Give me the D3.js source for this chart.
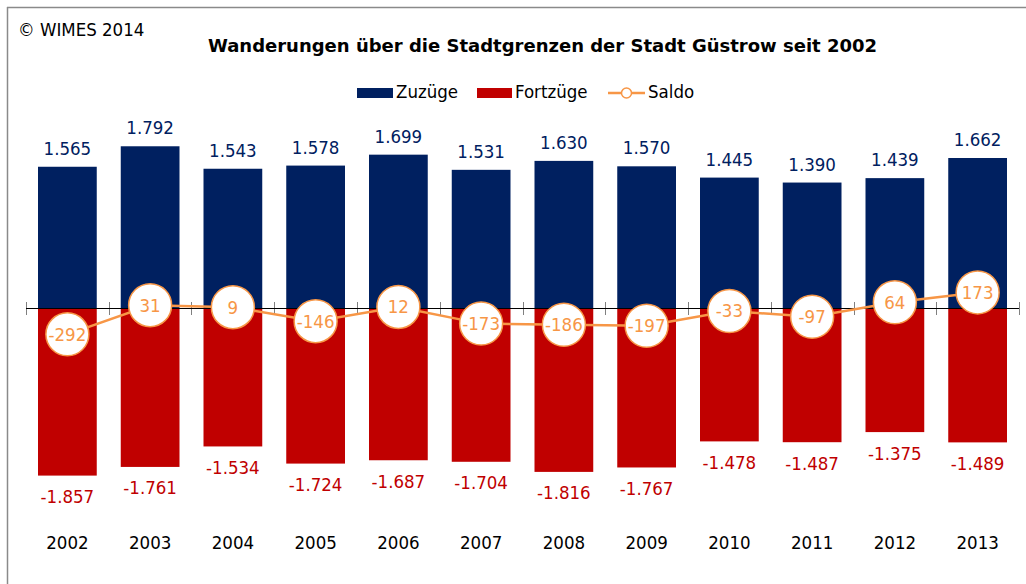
<!DOCTYPE html>
<html><head><meta charset="utf-8">
<script src="https://cdn.jsdelivr.net/npm/d3@7"></script>
<style>
html,body{margin:0;padding:0;background:#fff;}
svg{display:block;}
text{font-family:"DejaVu Sans Condensed","DejaVu Sans",sans-serif;font-stretch:condensed;}
</style></head>
<body>
<svg id="chart" width="1026" height="584"></svg>
<script>
const years = ["2002","2003","2004","2005","2006","2007","2008","2009","2010","2011","2012","2013"];
const zuzuege = [1565,1792,1543,1578,1699,1531,1630,1570,1445,1390,1439,1662];
const fortzuege = [-1857,-1761,-1534,-1724,-1687,-1704,-1816,-1767,-1478,-1487,-1375,-1489];
const saldo = [-292,31,9,-146,12,-173,-186,-197,-33,-97,64,173];
const seriesNames = ["Zuzüge","Fortzüge","Saldo"];
const titleText = "Wanderungen über die Stadtgrenzen der Stadt Güstrow seit 2002";
const copyrightText = "© WIMES 2014";

const C_IN = "#002060", C_OUT = "#c00000", C_SALDO = "#f79646";
const de = d3.formatLocale({decimal:",",thousands:".",grouping:[3],currency:["","€"],minus:"-"});
const fmt = de.format(",d");

const svg = d3.select("#chart");
const x = d3.scaleBand().domain(years).range([26,1019]).paddingInner(0.29).paddingOuter(0.145);
const y = d3.scaleLinear().domain([-2000,2000]).range([488.5,127.5]);
const y0 = y(0);

// frame
svg.append("line").attr("x1",7).attr("x2",1026).attr("y1",7.5).attr("y2",7.5).attr("stroke","#8a8a8a").attr("stroke-width",1.5);
svg.append("line").attr("x1",7.5).attr("x2",7.5).attr("y1",7).attr("y2",584).attr("stroke","#8a8a8a").attr("stroke-width",1.5);

svg.append("text").attr("x",18).attr("y",36).attr("font-size",18.5).attr("fill","#000").text(copyrightText);
svg.append("text").attr("x",542.5).attr("y",52).attr("text-anchor","middle").attr("font-size",18).attr("font-weight","bold").attr("fill","#000")
  .style("font-family",'"DejaVu Sans",sans-serif').style("font-stretch","normal").text(titleText);

// legend
const lg = svg.append("g");
lg.append("rect").attr("x",357).attr("y",88).attr("width",36).attr("height",10).attr("fill",C_IN);
lg.append("text").attr("x",396).attr("y",98).attr("font-size",18.5).text(seriesNames[0]);
lg.append("rect").attr("x",477).attr("y",88).attr("width",35).attr("height",10).attr("fill",C_OUT);
lg.append("text").attr("x",515).attr("y",98).attr("font-size",18.5).text(seriesNames[1]);
lg.append("line").attr("x1",608).attr("x2",645).attr("y1",93).attr("y2",93).attr("stroke",C_SALDO).attr("stroke-width",2.5);
lg.append("circle").attr("cx",626.5).attr("cy",93).attr("r",5).attr("fill","#fff").attr("stroke",C_SALDO).attr("stroke-width",1.5);
lg.append("text").attr("x",648).attr("y",98).attr("font-size",18.5).text(seriesNames[2]);

// bars
svg.append("g").selectAll("rect").data(zuzuege).join("rect")
  .attr("x",(d,i)=>x(years[i])).attr("width",x.bandwidth())
  .attr("y",d=>y(d)).attr("height",d=>y0-y(d)).attr("fill",C_IN);
svg.append("g").selectAll("rect").data(fortzuege).join("rect")
  .attr("x",(d,i)=>x(years[i])).attr("width",x.bandwidth())
  .attr("y",y0).attr("height",d=>y(d)-y0).attr("fill",C_OUT);

// zero axis with category boundary ticks
const bounds = years.map(yr=>x(yr)-x.step()*x.paddingInner()/2).concat([x(years[years.length-1])+x.bandwidth()+x.step()*x.paddingInner()/2]);
svg.append("g").selectAll("line").data(bounds).join("line")
  .attr("x1",d=>Math.round(d)+0.5).attr("x2",d=>Math.round(d)+0.5).attr("y1",y0-6).attr("y2",y0+7)
  .attr("stroke","#808080").attr("stroke-width",1);
svg.append("line").attr("x1",bounds[0]).attr("x2",bounds[bounds.length-1]).attr("y1",Math.round(y0)+0.5).attr("y2",Math.round(y0)+0.5).attr("stroke","#000").attr("stroke-width",1.2);

// value labels
svg.append("g").selectAll("text").data(zuzuege).join("text")
  .attr("x",(d,i)=>x(years[i])+x.bandwidth()/2).attr("y",d=>y(d)-12)
  .attr("text-anchor","middle").attr("font-size",18.5).attr("fill",C_IN).text(d=>fmt(d));
svg.append("g").selectAll("text").data(fortzuege).join("text")
  .attr("x",(d,i)=>x(years[i])+x.bandwidth()/2).attr("y",d=>y(d)+27.5)
  .attr("text-anchor","middle").attr("font-size",18.5).attr("fill",C_OUT).text(d=>fmt(d));

// saldo line
const line = d3.line().x((d,i)=>x(years[i])+x.bandwidth()/2).y(d=>y(d));
svg.append("path").datum(saldo).attr("d",line).attr("fill","none").attr("stroke",C_SALDO).attr("stroke-width",2.5);
const mk = svg.append("g").selectAll("g").data(saldo).join("g")
  .attr("transform",(d,i)=>`translate(${x(years[i])+x.bandwidth()/2},${y(d)})`);
mk.append("circle").attr("r",21.5).attr("fill","#fff").attr("stroke",C_SALDO).attr("stroke-width",1.5);
mk.append("text").attr("text-anchor","middle").attr("y",6.5).attr("font-size",18.5).attr("fill",C_SALDO).text(d=>fmt(d));

// year axis
const xAxis = svg.append("g").attr("transform","translate(0,531)").call(d3.axisBottom(x).tickSize(0).tickPadding(0));
xAxis.select(".domain").remove();
xAxis.selectAll("text").attr("font-size",18.5).attr("fill","#000").attr("dy",null).attr("y",18)
  .style("font-family",'"DejaVu Sans Condensed","DejaVu Sans",sans-serif');
</script>
</body></html>
